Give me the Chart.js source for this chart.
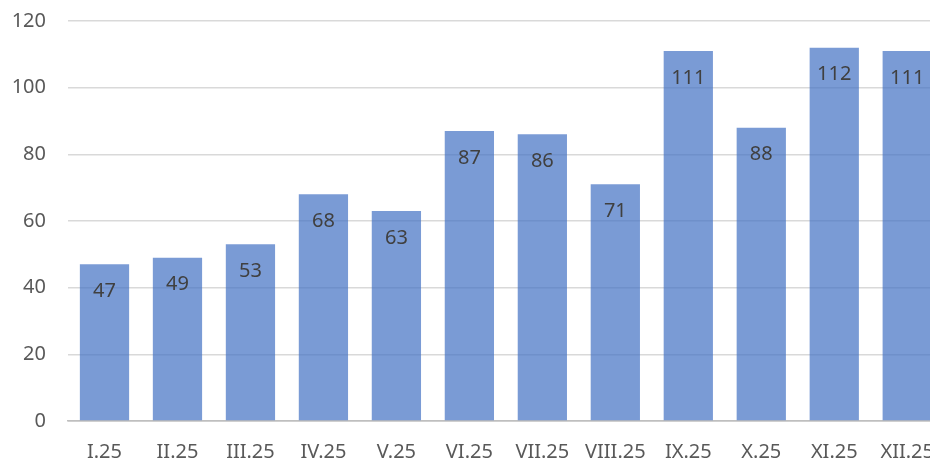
<!DOCTYPE html>
<html>
<head>
<meta charset="utf-8">
<script src="https://cdn.jsdelivr.net/npm/chart.js@4"></script>
<style>
  html, body { margin: 0; padding: 0; background: #fff; overflow: hidden; }
  #wrap { width: 930px; height: 459px; overflow: hidden; }
</style>
</head>
<body>
<div id="wrap"><canvas id="chart" width="953" height="459"></canvas></div>
<script>
// Chart data
const months = ["I.25", "II.25", "III.25", "IV.25", "V.25", "VI.25", "VII.25", "VIII.25", "IX.25", "X.25", "XI.25", "XII.25"]
const counts = [47, 49, 53, 68, 63, 87, 86, 71, 111, 88, 112, 111]
const yTicks = [0, 20, 40, 60, 80, 100, 120]

const fontFamily = "'Noto Sans', 'Open Sans', sans-serif"

// Draw value labels inside the top of each bar
const valueLabels = {
  id: "valueLabels",
  afterDatasetsDraw(chart) {
    const ctx = chart.ctx
    const meta = chart.getDatasetMeta(0)
    ctx.save()
    ctx.font = "20px " + fontFamily
    ctx.fillStyle = "#404040"
    ctx.textAlign = "center"
    ctx.textBaseline = "middle"
    meta.data.forEach((bar, i) => {
      ctx.fillText(String(counts[i]), bar.x, bar.y + 27)
    })
    ctx.restore()
  },
}

const ctx = document.getElementById("chart").getContext("2d")
new Chart(ctx, {
  type: "bar",
  data: {
    labels: months,
    datasets: [
      {
        data: counts,
        backgroundColor: "rgba(68, 114, 196, 0.71)",
        borderWidth: 0,
        categoryPercentage: 1,
        barPercentage: 0.675,
      },
    ],
  },
  options: {
    responsive: false,
    animation: false,
    layout: { padding: { top: 21, right: 0, bottom: 0, left: 0 } },
    scales: {
      x: {
        grid: { display: false, drawTicks: false },
        border: { color: "#bfbfbf", width: 1.5 },
        ticks: {
          color: "#595959",
          font: { family: fontFamily, size: 20 },
          padding: 19,
          maxRotation: 0,
          autoSkip: false,
        },
        afterFit: (scale) => { scale.height = 38 },
      },
      y: {
        min: 0,
        max: 120,
        afterBuildTicks: (scale) => { scale.ticks = yTicks.map((v) => ({ value: v })) },
        grid: {
          color: (c) => (c.tick && c.tick.value === 0 ? "#bfbfbf" : "#d9d9d9"),
          lineWidth: 1.5,
          drawTicks: false,
        },
        border: { display: false },
        ticks: {
          color: "#595959",
          font: { family: fontFamily, size: 20 },
          padding: 22,
        },
        afterFit: (scale) => {
          scale.width = 68
          scale.paddingTop = 0
          scale.paddingBottom = 0
        },
      },
    },
    plugins: {
      legend: { display: false },
      tooltip: { enabled: false },
    },
  },
  plugins: [valueLabels],
})
</script>
</body>
</html>
